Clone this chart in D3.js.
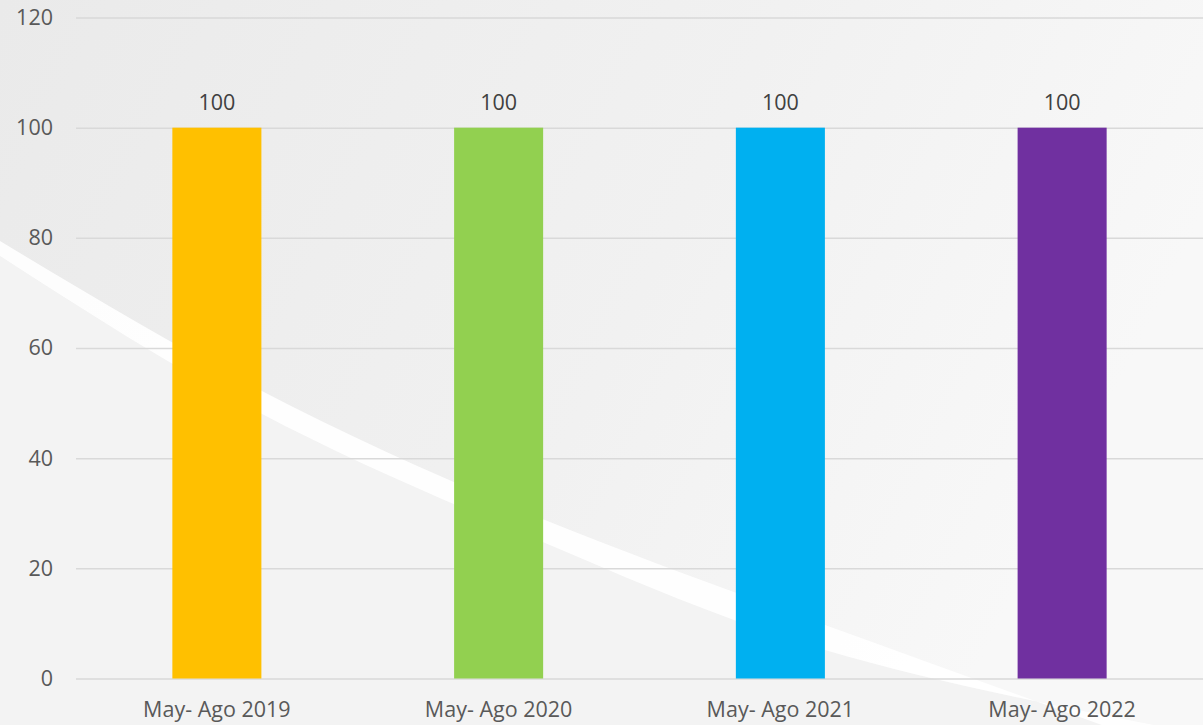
<!DOCTYPE html>
<html>
<head>
<meta charset="utf-8">
<script src="https://cdn.jsdelivr.net/npm/d3@7"></script>
<style>
  html, body { margin: 0; padding: 0; background: #f2f2f2; }
  svg { display: block; }
  text { font-family: "Open Sans", sans-serif; }
</style>
</head>
<body>
<div id="chart"></div>
<script>

// data
var categories = ["May- Ago 2019", "May- Ago 2020", "May- Ago 2021", "May- Ago 2022"]
var values = [100, 100, 100, 100]
var colours = ["#ffc000", "#92d050", "#00b0f0", "#7030a0"]
var yTicks = [0, 20, 40, 60, 80, 100, 120]

var width = 1203, height = 725
var margin = { top: 17.5, right: 0, bottom: 46.5, left: 76 }

var svg = d3.select("#chart").append("svg")
    .attr("width", width)
    .attr("height", height)

// background with the white swoosh
var defs = svg.append("defs")

var grad = defs.append("linearGradient")
    .attr("id", "bg")
    .attr("x1", "0").attr("y1", "0")
    .attr("x2", "1").attr("y2", "0.3")

grad.append("stop").attr("offset", "0").attr("stop-color", "#eaeaea")
grad.append("stop").attr("offset", "0.6").attr("stop-color", "#f1f1f1")
grad.append("stop").attr("offset", "1").attr("stop-color", "#f8f8f8")

svg.append("rect")
    .attr("width", width)
    .attr("height", height)
    .attr("fill", "url(#bg)")

var swooshTop = [[-20, 229], [260, 390], [545, 520], [825, 625], [1110, 728]]
var swooshBottom = [[1170, 728], [825, 650], [545, 543], [260, 413], [-20, 243]]

var curve = d3.line().curve(d3.curveMonotoneX)
var curveRev = d3.line().curve(d3.curveNatural)

// lighter area under the swoosh
svg.append("path")
    .attr("d", curveRev(swooshBottom.slice().reverse()) + "L1203,728L-20,728Z")
    .attr("fill", "#f3f3f3")

svg.append("path")
    .attr("d", curveRev(swooshTop) + "L" + curveRev(swooshBottom).slice(1) + "Z")
    .attr("fill", "#ffffff")
    .attr("opacity", 0.9)

// scales
var x = d3.scaleBand()
    .domain(categories)
    .range([margin.left, width - margin.right])

var y = d3.scaleLinear()
    .domain([0, 120])
    .range([height - margin.bottom, margin.top])

var barWidth = x.bandwidth() * 0.316

// gridlines + y labels
var yAxis = svg.append("g")
    .attr("transform", "translate(" + margin.left + ",0)")
    .call(d3.axisLeft(y).tickValues(yTicks).tickSize(-(width - margin.left - margin.right)).tickPadding(23))

yAxis.select(".domain").remove()
yAxis.selectAll(".tick line")
    .attr("stroke", "#d9d9d9")
    .attr("stroke-width", 1.5)
yAxis.selectAll(".tick text")
    .attr("fill", "#595959")
    .style("font-size", "21.5px")

// bars
svg.selectAll(".bar")
    .data(values)
    .enter().append("rect")
    .attr("class", "bar")
    .attr("x", (d, i) => x(categories[i]) + (x.bandwidth() - barWidth) / 2)
    .attr("y", d => y(d))
    .attr("width", barWidth)
    .attr("height", d => y(0) - y(d))
    .attr("fill", (d, i) => colours[i])

// value labels
svg.selectAll(".label")
    .data(values)
    .enter().append("text")
    .attr("class", "label")
    .attr("x", (d, i) => x(categories[i]) + x.bandwidth() / 2)
    .attr("y", d => y(d) - 18)
    .attr("text-anchor", "middle")
    .attr("fill", "#404040")
    .style("font-size", "21.5px")
    .text(d => d)

// category labels
svg.selectAll(".cat")
    .data(categories)
    .enter().append("text")
    .attr("class", "cat")
    .attr("x", d => x(d) + x.bandwidth() / 2)
    .attr("y", 717)
    .attr("text-anchor", "middle")
    .attr("fill", "#595959")
    .style("font-size", "21.5px")
    .text(d => d)

</script>
</body>
</html>
